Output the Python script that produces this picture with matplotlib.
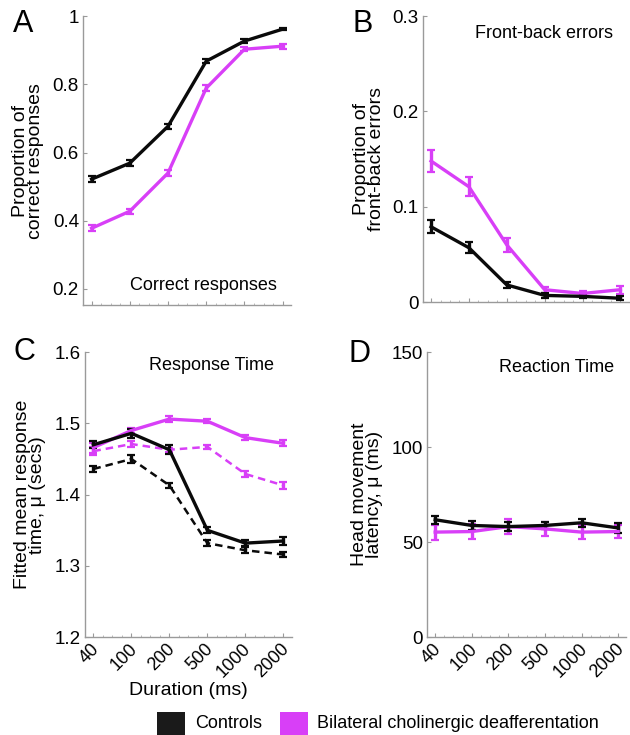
import numpy as np
import matplotlib
matplotlib.use('Agg')
import matplotlib.pyplot as plt
import matplotlib.transforms as mtransforms
from matplotlib.patches import Rectangle
from matplotlib.ticker import MultipleLocator

plt.rcParams['font.family'] = ['Liberation Sans', 'DejaVu Sans']

durations = ['40', '100', '200', '500', '1000', '2000']
x = np.arange(len(durations))

BLACK = '#0a0a0a'
MAGENTA = '#d83ff7'

# A: correct responses
correct_ctrl = [0.522, 0.569, 0.677, 0.868, 0.927, 0.962]
correct_ctrl_err = [0.008, 0.008, 0.008, 0.006, 0.006, 0.004]
correct_lesion = [0.378, 0.428, 0.540, 0.789, 0.903, 0.912]
correct_lesion_err = [0.009, 0.008, 0.009, 0.008, 0.006, 0.007]

# B: front-back errors
fb_ctrl = [0.079, 0.057, 0.018, 0.007, 0.006, 0.004]
fb_ctrl_err = [0.007, 0.006, 0.003, 0.003, 0.002, 0.002]
fb_lesion = [0.148, 0.121, 0.060, 0.013, 0.009, 0.013]
fb_lesion_err = [0.012, 0.010, 0.007, 0.003, 0.003, 0.004]

# C: fitted response time (solid and dashed conditions)
rt_ctrl = [1.470, 1.486, 1.463, 1.350, 1.332, 1.335]
rt_ctrl_err = [0.005, 0.006, 0.006, 0.004, 0.004, 0.006]
rt_lesion = [1.466, 1.490, 1.506, 1.503, 1.480, 1.472]
rt_lesion_err = [0.007, 0.004, 0.004, 0.003, 0.004, 0.004]
rt_ctrl_d = [1.436, 1.450, 1.413, 1.332, 1.322, 1.316]
rt_ctrl_d_err = [0.004, 0.006, 0.004, 0.004, 0.004, 0.004]
rt_lesion_d = [1.461, 1.471, 1.463, 1.467, 1.429, 1.413]
rt_lesion_d_err = [0.006, 0.004, 0.003, 0.003, 0.004, 0.005]

# D: head movement latency
lat_ctrl = [61.8, 58.8, 58.2, 58.8, 60.2, 57.5]
lat_ctrl_err = [2.0, 2.5, 2.5, 2.0, 2.0, 2.5]
lat_lesion = [55.3, 55.6, 58.2, 57.0, 55.3, 55.6]
lat_lesion_err = [4.0, 4.0, 4.0, 3.5, 3.5, 3.5]

fig = plt.figure(figsize=(6.3, 7.35), dpi=100)

axA = fig.add_axes([0.132, 0.585, 0.330, 0.393])
axB = fig.add_axes([0.671, 0.589, 0.327, 0.389])
axC = fig.add_axes([0.135, 0.133, 0.328, 0.388])
axD = fig.add_axes([0.678, 0.133, 0.316, 0.388])

def style(ax, show_labels):
    for s in ['top', 'right']:
        ax.spines[s].set_visible(False)
    for s in ['left', 'bottom']:
        ax.spines[s].set_color('#9a9a9a')
        ax.spines[s].set_linewidth(1.0)
    ax.set_xticks(x)
    ax.xaxis.set_minor_locator(MultipleLocator(0.25))
    ax.tick_params(axis='both', which='major', direction='in', length=3,
                   color='#9a9a9a', labelsize=13.5, pad=3)
    ax.tick_params(axis='x', which='minor', direction='in', length=1.5,
                   color='#b0b0b0')
    ax.set_xlim(-0.22, 5.22)
    if show_labels:
        ax.set_xticklabels(durations, rotation=45, ha='right', va='center',
                           rotation_mode='anchor', fontsize=13)
        ax.tick_params(axis='x', which='major', pad=6.5)
        shift = mtransforms.ScaledTranslation(3 / 100, 0, fig.dpi_scale_trans)
        for t in ax.get_xticklabels():
            t.set_transform(t.get_transform() + shift)
    else:
        ax.set_xticklabels([])

def series(ax, y, e, color, ls='-'):
    lw = 2.4 if ls == '-' else 1.8
    ax.errorbar(x, y, yerr=e, color=color, lw=lw, ls=ls, elinewidth=2.4,
                capsize=3, capthick=1.6, zorder=3,
                dashes=(3, 2) if ls == '--' else (None, None))

# A
series(axA, correct_lesion, correct_lesion_err, MAGENTA)
series(axA, correct_ctrl, correct_ctrl_err, BLACK)
axA.set_ylim(0.153, 1.0)
axA.set_yticks([0.2, 0.4, 0.6, 0.8, 1.0])
axA.set_yticklabels(['0.2', '0.4', '0.6', '0.8', '1'])
style(axA, False)
axA.set_ylabel('Proportion of\ncorrect responses', fontsize=14, labelpad=6,
               linespacing=0.9)
axA.text(0.58, 0.069, 'Correct responses', transform=axA.transAxes,
         ha='center', va='center', fontsize=13)

# B
series(axB, fb_lesion, fb_lesion_err, MAGENTA)
series(axB, fb_ctrl, fb_ctrl_err, BLACK)
axB.set_ylim(0, 0.3)
axB.set_yticks([0, 0.1, 0.2, 0.3])
axB.set_yticklabels(['0', '0.1', '0.2', '0.3'])
style(axB, False)
axB.set_ylabel('Proportion of\nfront-back errors', fontsize=14, labelpad=5,
               linespacing=0.9)
axB.text(0.59, 0.94, 'Front-back errors', transform=axB.transAxes,
         ha='center', va='center', fontsize=13)

# C
series(axC, rt_lesion_d, rt_lesion_d_err, MAGENTA, ls='--')
series(axC, rt_ctrl_d, rt_ctrl_d_err, BLACK, ls='--')
series(axC, rt_lesion, rt_lesion_err, MAGENTA)
series(axC, rt_ctrl, rt_ctrl_err, BLACK)
axC.set_ylim(1.2, 1.6)
axC.set_yticks([1.2, 1.3, 1.4, 1.5, 1.6])
style(axC, True)
axC.set_ylabel('Fitted mean response\ntime, \u03bc (secs)', fontsize=14,
               labelpad=6, linespacing=0.9)
axC.set_xlabel('Duration (ms)', fontsize=14, labelpad=1)
axC.text(0.613, 0.954, 'Response Time', transform=axC.transAxes,
         ha='center', va='center', fontsize=13)

# D
series(axD, lat_lesion, lat_lesion_err, MAGENTA)
series(axD, lat_ctrl, lat_ctrl_err, BLACK)
axD.set_ylim(0, 150)
axD.set_yticks([0, 50, 100, 150])
style(axD, True)
axD.set_ylabel('Head movement\nlatency, \u03bc (ms)', fontsize=14, labelpad=6,
               linespacing=0.9)
axD.text(0.65, 0.947, 'Reaction Time', transform=axD.transAxes,
         ha='center', va='center', fontsize=13)

# panel letters
for lbl, px, py in [('A', 0.037, 0.967), ('B', 0.575, 0.967),
                    ('C', 0.038, 0.521), ('D', 0.571, 0.518)]:
    fig.text(px, py, lbl, fontsize=22, ha='center', va='center')

# group key along the bottom edge
fig.patches.append(Rectangle((157 / 630, 0), 28 / 630, 23 / 735,
                             transform=fig.transFigure, facecolor='#1a1a1a',
                             edgecolor='none'))
fig.patches.append(Rectangle((280 / 630, 0), 28 / 630, 23 / 735,
                             transform=fig.transFigure, facecolor=MAGENTA,
                             edgecolor='none'))
fig.text(195 / 630, 11 / 735, 'Controls', fontsize=13, va='center')
fig.text(317 / 630, 11 / 735, 'Bilateral cholinergic deafferentation',
         fontsize=13, va='center')

fig.savefig('out.png', dpi=100)
